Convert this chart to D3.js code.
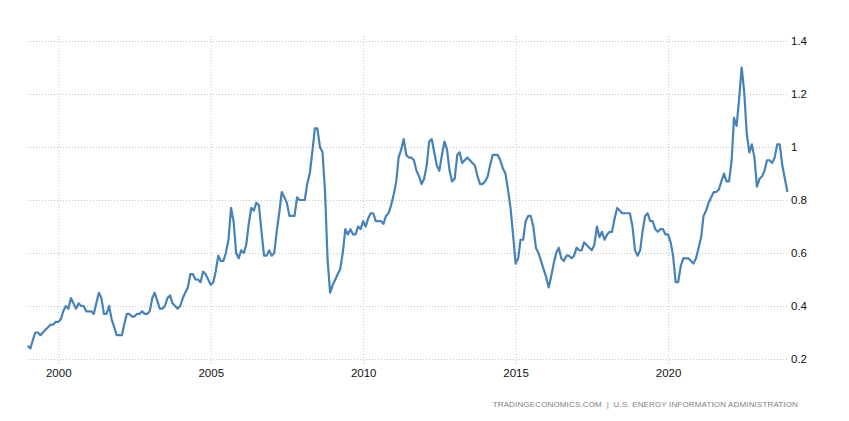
<!DOCTYPE html>
<html>
<head>
<meta charset="utf-8">
<script src="https://cdn.jsdelivr.net/npm/d3@7"></script>
<style>
	body { margin: 0; background: #fff; }
	svg { display: block; }
</style>
</head>
<body>
<div id="chart"></div>
<script>

	/**
	 * Data (monthly, Jan 1999 - Dec 2023)
	 */
	const startYear = 1999;
	const values = [
		0.25, 0.24, 0.27, 0.30, 0.30, 0.29, 0.30, 0.31, 0.32, 0.33, 0.33, 0.34, // 1999
		0.34, 0.35, 0.38, 0.40, 0.39, 0.43, 0.41, 0.39, 0.41, 0.40, 0.40, 0.38, // 2000
		0.38, 0.38, 0.37, 0.41, 0.45, 0.43, 0.37, 0.37, 0.40, 0.35, 0.32, 0.29, // 2001
		0.29, 0.29, 0.33, 0.37, 0.37, 0.36, 0.36, 0.37, 0.37, 0.38, 0.37, 0.37, // 2002
		0.38, 0.43, 0.45, 0.42, 0.39, 0.39, 0.40, 0.43, 0.44, 0.41, 0.40, 0.39, // 2003
		0.40, 0.43, 0.45, 0.47, 0.52, 0.52, 0.50, 0.50, 0.49, 0.53, 0.52, 0.50, // 2004
		0.48, 0.49, 0.53, 0.59, 0.57, 0.57, 0.60, 0.65, 0.77, 0.72, 0.60, 0.58, // 2005
		0.61, 0.60, 0.63, 0.71, 0.77, 0.76, 0.79, 0.78, 0.68, 0.59, 0.59, 0.61, // 2006
		0.59, 0.60, 0.68, 0.75, 0.83, 0.81, 0.79, 0.74, 0.74, 0.74, 0.81, 0.80, // 2007
		0.80, 0.80, 0.86, 0.90, 0.98, 1.07, 1.07, 1.00, 0.98, 0.83, 0.57, 0.45, // 2008
		0.48, 0.50, 0.52, 0.54, 0.60, 0.69, 0.67, 0.69, 0.67, 0.67, 0.70, 0.69, // 2009
		0.72, 0.70, 0.73, 0.75, 0.75, 0.72, 0.72, 0.72, 0.71, 0.74, 0.75, 0.78, // 2010
		0.82, 0.87, 0.96, 0.99, 1.03, 0.97, 0.96, 0.96, 0.95, 0.91, 0.89, 0.86, // 2011
		0.88, 0.93, 1.02, 1.03, 0.98, 0.93, 0.91, 0.97, 1.02, 0.99, 0.91, 0.87, // 2012
		0.88, 0.97, 0.98, 0.94, 0.95, 0.96, 0.95, 0.94, 0.93, 0.89, 0.86, 0.86, // 2013
		0.87, 0.89, 0.93, 0.97, 0.97, 0.97, 0.95, 0.92, 0.90, 0.84, 0.77, 0.67, // 2014
		0.56, 0.58, 0.65, 0.65, 0.72, 0.74, 0.74, 0.70, 0.62, 0.60, 0.57, 0.54, // 2015
		0.51, 0.47, 0.51, 0.56, 0.60, 0.62, 0.58, 0.57, 0.59, 0.59, 0.58, 0.59, // 2016
		0.62, 0.61, 0.61, 0.64, 0.63, 0.62, 0.61, 0.63, 0.70, 0.66, 0.68, 0.65, // 2017
		0.67, 0.68, 0.68, 0.73, 0.77, 0.76, 0.75, 0.75, 0.75, 0.75, 0.70, 0.61, // 2018
		0.59, 0.61, 0.68, 0.74, 0.75, 0.72, 0.72, 0.69, 0.68, 0.69, 0.69, 0.67, // 2019
		0.67, 0.64, 0.59, 0.49, 0.49, 0.55, 0.58, 0.58, 0.58, 0.57, 0.56, 0.58, // 2020
		0.62, 0.66, 0.74, 0.76, 0.79, 0.81, 0.83, 0.83, 0.84, 0.87, 0.90, 0.87, // 2021
		0.87, 0.95, 1.11, 1.08, 1.18, 1.30, 1.21, 1.05, 0.98, 1.01, 0.96, 0.85, // 2022
		0.88, 0.89, 0.91, 0.95, 0.95, 0.94, 0.96, 1.01, 1.01, 0.93, 0.88, 0.83  // 2023
	];
	const xTickYears = [2000, 2005, 2010, 2015, 2020];
	const yTicks = [0.2, 0.4, 0.6, 0.8, 1, 1.2, 1.4];
	const sourceLabel = "TRADINGECONOMICS.COM  |  U.S. ENERGY INFORMATION ADMINISTRATION";

	/**
	 * Default Properties
	 */
	let width = 849;
	let height = 421;
	let plot = { left: 27.8, right: 790, top: 41, bottom: 359 };
	let lineColor = "#4682b8";
	let gridColor = "#c4c4c4";
	let fontFamily = "'Liberation Sans', Arial, sans-serif";

	let data = values.map(function(v, i) {
		return { date: new Date(startYear, i, 1), value: v };
	});

	/**
	 * Scales
	 */
	let xScale = d3.scaleTime()
		.domain([new Date(startYear, 0, 1), new Date(2024, 0, 1)])
		.range([plot.left, plot.right]);

	let yScale = d3.scaleLinear()
		.domain([0.2, 1.4])
		.range([plot.bottom, plot.top]);

	let svg = d3.select("#chart").append("svg")
		.attr("width", width)
		.attr("height", height);

	// Horizontal grid + right hand labels
	let yAxis = d3.axisRight(yScale)
		.tickValues(yTicks)
		.tickSize(-(787 - 25))
		.tickPadding(4)
		.tickFormat(function(d) { return d3.format("~g")(d); });

	let yG = svg.append("g")
		.attr("class", "y axis")
		.attr("transform", "translate(787,0)")
		.call(yAxis);

	yG.select(".domain").remove();
	yG.selectAll(".tick line")
		.attr("stroke", gridColor)
		.attr("stroke-dasharray", "1,2");
	yG.selectAll(".tick text")
		.attr("fill", "#111")
		.style("font-family", fontFamily)
		.style("font-size", "11.5px");

	// Vertical grid + year labels
	let xAxis = d3.axisBottom(xScale)
		.tickValues(xTickYears.map(function(y) { return new Date(y, 0, 1); }))
		.tickSize(-(364 - 36))
		.tickPadding(5)
		.tickFormat(d3.timeFormat("%Y"));

	let xG = svg.append("g")
		.attr("class", "x axis")
		.attr("transform", "translate(0,364)")
		.call(xAxis);

	xG.select(".domain").remove();
	xG.selectAll(".tick line")
		.attr("stroke", gridColor)
		.attr("stroke-dasharray", "1,2");
	xG.selectAll(".tick text")
		.attr("fill", "#111")
		.style("font-family", fontFamily)
		.style("font-size", "11.5px");

	// Series line
	let line = d3.line()
		.x(function(d) { return xScale(d.date); })
		.y(function(d) { return yScale(d.value); });

	svg.append("path")
		.datum(data)
		.attr("fill", "none")
		.attr("stroke", lineColor)
		.attr("stroke-width", 2.2)
		.attr("stroke-linejoin", "round")
		.attr("d", line);

	// Source footer
	svg.append("text")
		.attr("x", 798)
		.attr("y", 407)
		.attr("text-anchor", "end")
		.attr("fill", "#808080")
		.style("font-family", fontFamily)
		.style("font-size", "8px")
		.style("letter-spacing", "0.15px")
		.style("white-space", "pre")
		.text(sourceLabel);

</script>
</body>
</html>
